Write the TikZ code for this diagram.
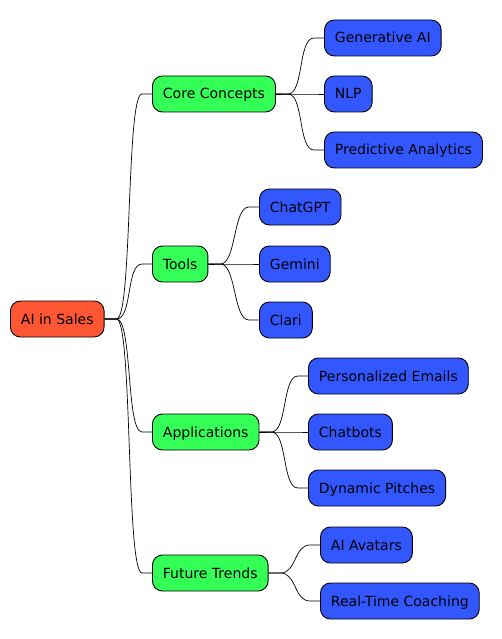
\documentclass[tikz,border=0pt]{standalone}
\usepackage{fontspec}
\setmainfont{DejaVu Sans}
\usetikzlibrary{calc}
\definecolor{rootfill}{HTML}{FF5733}
\definecolor{midfill}{HTML}{33FF57}
\definecolor{leaffill}{HTML}{3357FF}
\tikzset{
  box/.style={draw=black, line width=0.9pt, rounded corners=10pt, minimum height=36pt,
    inner xsep=10.5pt, text height=12pt, text depth=2pt,
    font=\fontsize{14}{16}\selectfont, text=black, anchor=west},
  rootbox/.style={box, fill=rootfill},
  midbox/.style={box, fill=midfill},
  leafbox/.style={box, fill=leaffill},
  link/.style={draw=black, line width=0.7pt},
}
\newcommand{\branch}[2]{%
  \draw[link] (#1.east) -- ++(12,0) .. controls +(16,0) and +(-16,0) .. ($(#2.west)+(-10,0)$) -- (#2.west);}

\begin{document}
\begin{tikzpicture}[x=1pt, y=-1pt]
  \useasboundingbox (0,0) rectangle (502,639);
  % root
  \node[rootbox] (root) at (10,319) {AI in Sales};
  % second level
  \node[midbox] (core) at (152,94) {Core Concepts};
  \node[midbox] (tools) at (152,264) {Tools};
  \node[midbox] (apps) at (152,432) {Applications};
  \node[midbox] (trends) at (152,573) {Future Trends};
  % leaves
  \node[leafbox] (genai) at (324,38) {Generative AI};
  \node[leafbox] (nlp) at (324,94) {NLP};
  \node[leafbox] (predict) at (324,150) {Predictive Analytics};
  \node[leafbox] (chatgpt) at (259,207) {ChatGPT};
  \node[leafbox] (gemini) at (259,264) {Gemini};
  \node[leafbox] (clari) at (259,320) {Clari};
  \node[leafbox] (emails) at (308,376) {Personalized Emails};
  \node[leafbox] (chatbots) at (308,432) {Chatbots};
  \node[leafbox] (pitches) at (308,488) {Dynamic Pitches};
  \node[leafbox] (avatars) at (320,545) {AI Avatars};
  \node[leafbox] (coaching) at (320,601) {Real-Time Coaching};
  % connectors
  \foreach \p/\c in {root/core, root/tools, root/apps, root/trends,
      core/genai, core/nlp, core/predict,
      tools/chatgpt, tools/gemini, tools/clari,
      apps/emails, apps/chatbots, apps/pitches,
      trends/avatars, trends/coaching}
    {\branch{\p}{\c}}
\end{tikzpicture}
\end{document}
